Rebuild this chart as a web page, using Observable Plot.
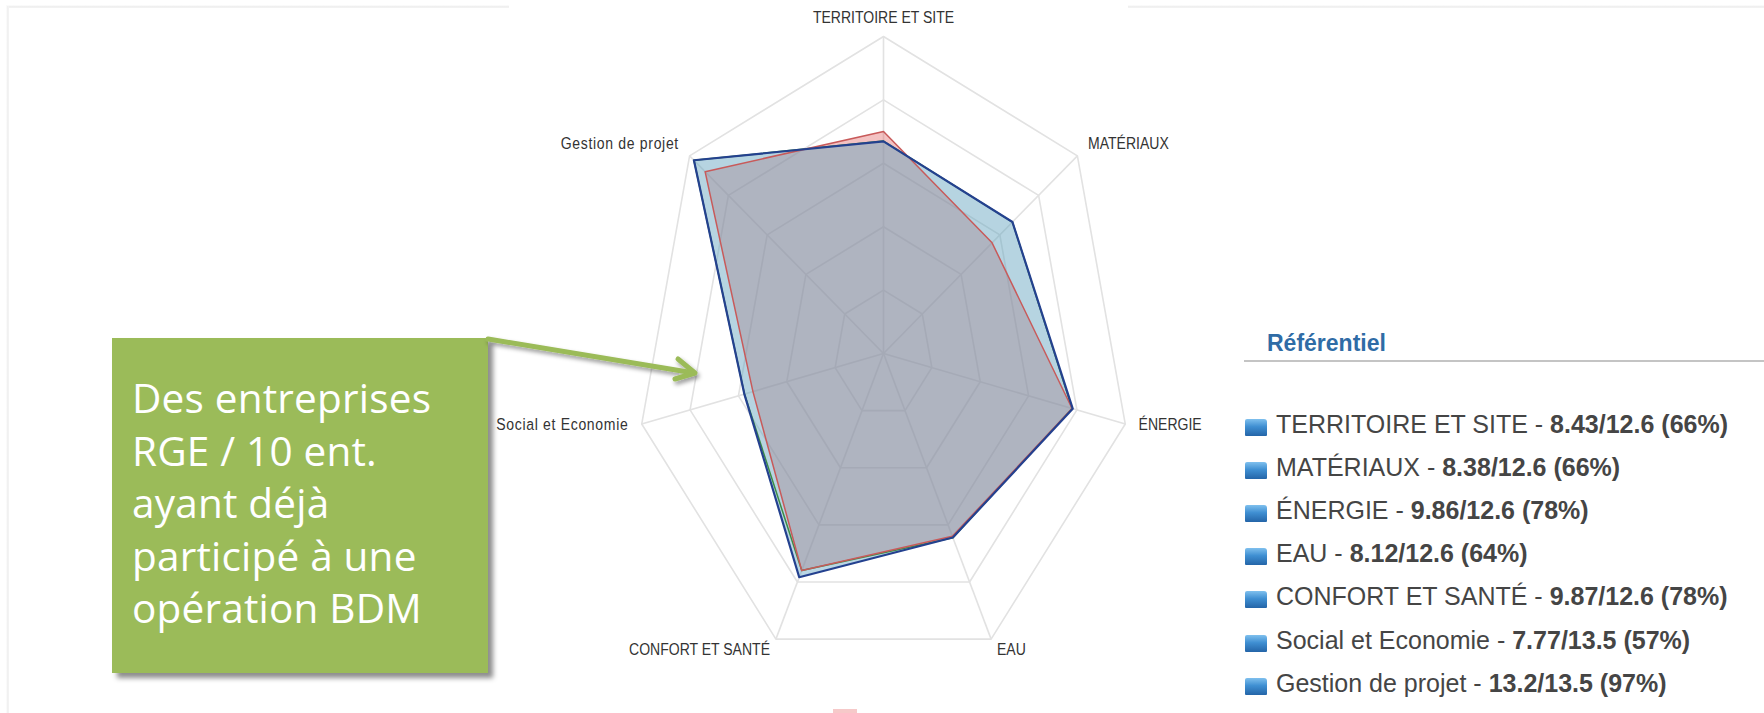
<!DOCTYPE html>
<html>
<head>
<meta charset="utf-8">
<script src="https://cdn.jsdelivr.net/npm/d3@7"></script>
<script src="https://cdn.jsdelivr.net/npm/@observablehq/plot@0.6"></script>
<style>
  html, body { margin: 0; padding: 0; background: #ffffff; }
  #page { position: relative; width: 1764px; height: 713px; overflow: hidden; background: #ffffff; }
  .frame-h { position: absolute; height: 3px; top: 5px; background: linear-gradient(#ffffff, #ececec 60%, #f6f6f6); }
  .frame-v { position: absolute; width: 3px; left: 6px; top: 6px; bottom: 0; background: linear-gradient(90deg, #ffffff, #eeeeee 60%, #f7f7f7); }
  #chartbg { position: absolute; left: 509px; top: 0; width: 619px; height: 713px; background: #ffffff; }
  #chart { position: absolute; left: 496px; top: 0; width: 744px; height: 713px; overflow: hidden; }
  #note {
    position: absolute; left: 112px; top: 338px; width: 376px; height: 335px;
    background: #9bbb59; box-shadow: 5px 5px 5px rgba(0,0,0,0.45);
    color: #ffffff; font-family: "Open Sans", sans-serif; font-size: 40.5px; line-height: 52.5px;
    box-sizing: border-box; padding: 34px 0 0 20px; letter-spacing: 0.2px;
  }
  #arrow { position: absolute; left: 0; top: 0; width: 1764px; height: 713px; pointer-events: none; }
  #legend { position: absolute; left: 1244px; top: 0; width: 520px; height: 713px; font-family: "Liberation Sans", Arial, sans-serif; }
  #legend .title { position: absolute; left: 23px; top: 330px; font-size: 23px; font-weight: bold; color: #2f6ca6; }
  #legend .rule { position: absolute; left: 0; top: 360px; width: 520px; height: 2px; background: #c4c4c4; }
  #legend .item { position: absolute; left: 0; height: 30px; font-size: 25px; color: #454545; white-space: nowrap; }
  #legend .item b { color: #454545; }
  #legend .icon { position: absolute; left: 1px; top: 9px; width: 22px; height: 17px; border-radius: 2px 3px 1px 1px;
    background: linear-gradient(180deg, #7fc0ee 0%, #3f8fd2 45%, #2465a8 100%); }
  #legend .txt { position: absolute; left: 32px; top: 0; }
  #swatch { position: absolute; left: 833px; top: 709px; width: 24px; height: 4px; background: #f6c9c9; }
</style>
</head>
<body>
<div id="page">
  <div class="frame-h" style="left:6px; width:503px;"></div>
  <div class="frame-h" style="left:1128px; width:636px;"></div>
  <div class="frame-v"></div>
  <div id="chartbg"></div>
  <div id="chart"></div>
  <div id="swatch"></div>
  <div id="legend"></div>
  <div id="note"></div>
  <svg id="arrow" xmlns="http://www.w3.org/2000/svg">
    <defs>
      <filter id="arrowShadow" x="-10%" y="-50%" width="120%" height="200%">
        <feDropShadow dx="2" dy="3" stdDeviation="2" flood-color="#000" flood-opacity="0.4"/>
      </filter>
    </defs>
    <g filter="url(#arrowShadow)" stroke="#9bbb59" stroke-width="5" fill="none" stroke-linecap="round" stroke-linejoin="round">
      <line x1="488" y1="339" x2="694" y2="373"/>
      <polyline points="678,359 695,373 675,379"/>
    </g>
  </svg>
</div>
<script>
// Axes of the radar, clockwise from the top
const axes = ["TERRITOIRE ET SITE", "MATÉRIAUX", "ÉNERGIE", "EAU", "CONFORT ET SANTÉ", "Social et Economie", "Gestion de projet"];
// Scores of the reference profile and the maximum of each theme
const scores = [8.43, 8.38, 9.86, 8.12, 9.87, 7.77, 13.2];
const maxima = [12.6, 12.6, 12.6, 12.6, 12.6, 13.5, 13.5];
const percentLabels = ["66%", "66%", "78%", "64%", "78%", "57%", "97%"];
// Two other profiles, in percent of each maximum
const redSeries = [70, 56, 78, 64, 76, 54, 92];
const greenSeries = [67, 66.5, 78, 64.5, 76, 57.5, 97.8];
// Concentric grid levels (share of the maximum)
const gridLevels = [0.2, 0.4, 0.6, 0.8, 1.0];
const labelRadius = 1.055;

const n = axes.length;
const angle = i => (i * 2 * Math.PI) / n;
const px = (r, i) => r * Math.sin(angle(i));
const py = (r, i) => r * Math.cos(angle(i));

const blueSeries = scores.map((s, i) => (100 * s) / maxima[i]);

const profileRows = (name, values) => values.map((v, i) => ({ name, axis: axes[i], i, r: v / 100 }));
const profiles = [
  ...profileRows("red", redSeries),
  ...profileRows("green", greenSeries),
  ...profileRows("blue", blueSeries)
];
const ringRows = gridLevels.flatMap(level => axes.map((axis, i) => ({ level, axis, i })));
const axisRows = axes.map((axis, i) => ({ axis, i }));

const style = {
  red:   { fill: "#dc5050", fillOpacity: 0.35, stroke: "#c85a5a", strokeWidth: 1.5 },
  green: { fill: "#6aa86a", fillOpacity: 0.04, stroke: "#3c8c46", strokeWidth: 1.5 },
  blue:  { fill: "#64a5c3", fillOpacity: 0.45, stroke: "#24418f", strokeWidth: 2.2 }
};

const fills = ["red", "green", "blue"].map(name =>
  Plot.line(profiles.filter(d => d.name === name), {
    x: d => px(d.r, d.i), y: d => py(d.r, d.i),
    curve: "linear-closed", fill: style[name].fill, fillOpacity: style[name].fillOpacity, stroke: "none"
  })
);
const outlines = ["green", "red", "blue"].map(name =>
  Plot.line(profiles.filter(d => d.name === name), {
    x: d => px(d.r, d.i), y: d => py(d.r, d.i),
    curve: "linear-closed", stroke: style[name].stroke, strokeWidth: style[name].strokeWidth, strokeLinejoin: "round"
  })
);

// One text mark per axis label: anchor depends on the side of the radar
const anchorOf = i => (i === 0 ? "middle" : i <= 3 ? "start" : "end");
const nudgeOf = i => (i === 0 || i === 1 || i === 6 ? 4 : i === 2 || i === 5 ? 2 : 0);
const labelMarks = axisRows.map(row =>
  Plot.text([row], {
    x: d => px(labelRadius, d.i), y: d => py(labelRadius, d.i), text: "axis",
    textAnchor: anchorOf(row.i), lineAnchor: "middle", dy: nudgeOf(row.i),
    fontSize: 16.5, fill: "#333333", fontFamily: "'Liberation Sans', Arial, sans-serif"
  })
);

const chart = Plot.plot({
  width: 744, height: 713,
  margin: 0,
  x: { domain: [-1, 1], range: [139, 635], axis: null },
  y: { domain: [-1, 1], range: [670, 36], axis: null },
  style: { background: "transparent", overflow: "hidden" },
  marks: [
    Plot.line(ringRows, {
      x: d => px(d.level, d.i), y: d => py(d.level, d.i), z: "level",
      curve: "linear-closed", stroke: "#e2e2e2", strokeWidth: 1.6
    }),
    Plot.link(axisRows, {
      x1: () => 0, y1: () => 0, x2: d => px(1, d.i), y2: d => py(1, d.i),
      stroke: "#e2e2e2", strokeWidth: 1.6
    }),
    ...fills,
    ...outlines,
    ...labelMarks
  ]
});

// Axis labels use a condensed letterform: squeeze each label horizontally around its anchor
d3.select(chart).selectAll("text").each(function () {
  const el = d3.select(this);
  const x = +el.attr("x") || 0, y = +el.attr("y") || 0;
  const t = el.attr("transform") || "";
  el.attr("x", null).attr("y", null).attr("transform", `${t} translate(${x},${y}) scale(0.85,1)`);
  if (/[a-z]/.test(el.text())) el.style("letter-spacing", "0.8px");
});
document.getElementById("chart").appendChild(chart);

// Legend: one line per theme with score, maximum and share
const legend = d3.select("#legend");
legend.append("div").attr("class", "title").text("Référentiel");
legend.append("div").attr("class", "rule");
const baselines = [434, 477, 520, 563, 606, 650, 693];
axes.forEach((axis, i) => {
  const item = legend.append("div").attr("class", "item").style("top", `${baselines[i] - 24}px`);
  item.append("div").attr("class", "icon");
  const t = item.append("div").attr("class", "txt");
  t.append("span").text(`${axis} - `);
  t.append("b").text(`${scores[i]}/${maxima[i]} (${percentLabels[i]})`);
});

// Annotation box
const noteLines = ["Des entreprises", "RGE / 10 ent.", "ayant déjà", "participé à une", "opération BDM"];
d3.select("#note").selectAll("div").data(noteLines).join("div").text(d => d);
</script>
</body>
</html>
